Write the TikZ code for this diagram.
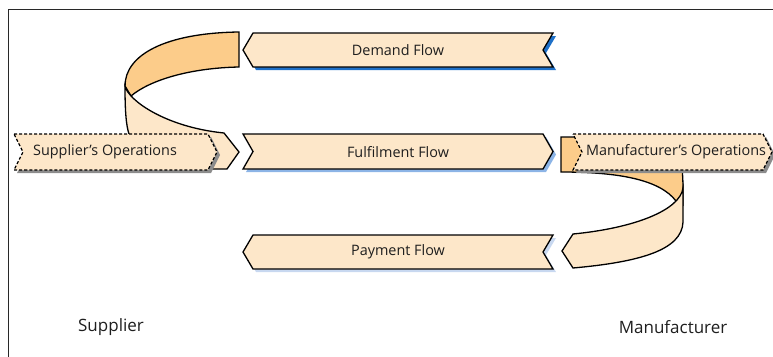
\documentclass[tikz,border=0pt]{standalone}
\usepackage{fontspec}
\setmainfont{Open Sans}
\definecolor{peach}{RGB}{253,231,201}
\definecolor{tanface}{RGB}{252,204,138}
\definecolor{shadeA}{RGB}{30,112,200}
\definecolor{shadeB}{RGB}{140,180,230}
\definecolor{shadeC}{RGB}{200,216,240}
\definecolor{greyshade}{RGB}{140,140,140}
\definecolor{ink}{RGB}{30,30,30}
\definecolor{framecol}{RGB}{40,40,40}
\tikzset{
  outline/.style={draw=black, line width=1.3pt, line join=miter},
  frontface/.style={outline, fill=peach},
  backface/.style={outline, fill=tanface},
  opsface/.style={fill=peach, draw=black, line width=1.2pt, dash pattern=on 3pt off 2pt},
  flowtext/.style={text=ink, inner sep=0pt, font=\fontsize{14.4}{16}\selectfont},
  sidetext/.style={text=ink, inner sep=0pt, font=\fontsize{17}{20}\selectfont},
  % arrow pointing left, notch on the right
  pics/leftflow/.style={code={
    \path[pic actions] (0,17) -- (10,0) -- (310,0) -- (300,17) -- (310,34) -- (10,34) -- cycle;}},
  % arrow pointing right, notch on the left
  pics/rightflow/.style={code={
    \path[pic actions] (0,0) -- (300,0) -- (310,17.5) -- (300,35) -- (0,35) -- (10,17.5) -- cycle;}},
  % operations tag: notched left end, pointed right end
  pics/opsflag/.style={code={
    \path[pic actions] (0,0) -- (#1,0) -- (#1+9,18) -- (#1,36) -- (0,36) -- (9,18) -- cycle;}},
}
\begin{document}
\begin{tikzpicture}[x=1pt,y=-1pt]
\useasboundingbox (0,0) rectangle (773,356);
\clip (0,0) rectangle (773,356);

% open frame
\draw[framecol, line width=1.6pt] (8.5,400) -- (8.5,9.5) -- (800,9.5);

% supplier-side ribbon: inner (back) face, then outer (front) face
\path[backface] (239,32) .. controls (165,33) and (125,55) .. (125,86)
  -- (131,96) .. controls (150,80) and (190,68) .. (239,67) -- cycle;
\path[frontface] (125,86) .. controls (128,100) and (165,127) .. (224,133)
  -- (239,152) -- (227,169) -- (130,169) -- (129,134)
  .. controls (126,125) and (125,110) .. (125,86) -- cycle;

% supplier operations tag
\pic[fill=greyshade] at (17,137) {opsflag=194};
\pic[opsface] at (14,134) {opsflag=194};

% the three flows with their drop shadows
\pic[fill=shadeA] at (246,36) {leftflow};
\pic[frontface] at (243,33) {leftflow};
\pic[fill=shadeB] at (246,137) {rightflow};
\pic[frontface] at (243,134) {rightflow};
\pic[fill=shadeC] at (246,238) {leftflow};
\pic[frontface] at (243,235) {leftflow};

% manufacturer-side ribbon
\path[backface] (561,137) -- (668,137) .. controls (679,139) and (683,165) .. (683,188)
  -- (683,205) -- (676,201) .. controls (660,180) and (620,172) .. (561,172) -- cycle;
\path[frontface] (683,188) .. controls (680,210) and (635,228) .. (573,234)
  -- (562,251) -- (573,268) .. controls (640,262) and (682,250) .. (683,222) -- cycle;

% manufacturer operations tag
\pic[fill=greyshade] at (576,137) {opsflag=190};
\pic[opsface] at (573,134) {opsflag=190};

% labels
\node[flowtext] (demand) at (398,50) {Demand Flow};
\node[flowtext] (fulfil) at (398,152) {Fulfilment Flow};
\node[flowtext] (payment) at (398,252) {Payment Flow};
\node[flowtext] (supops) at (105,152) {Supplier’s Operations};
\node[flowtext] (manops) at (676,152) {Manufacturer’s Operations};
\node[sidetext] (supplier) at (111,327) {Supplier};
\node[sidetext] (manufacturer) at (673,327) {Manufacturer};
\end{tikzpicture}
\end{document}
